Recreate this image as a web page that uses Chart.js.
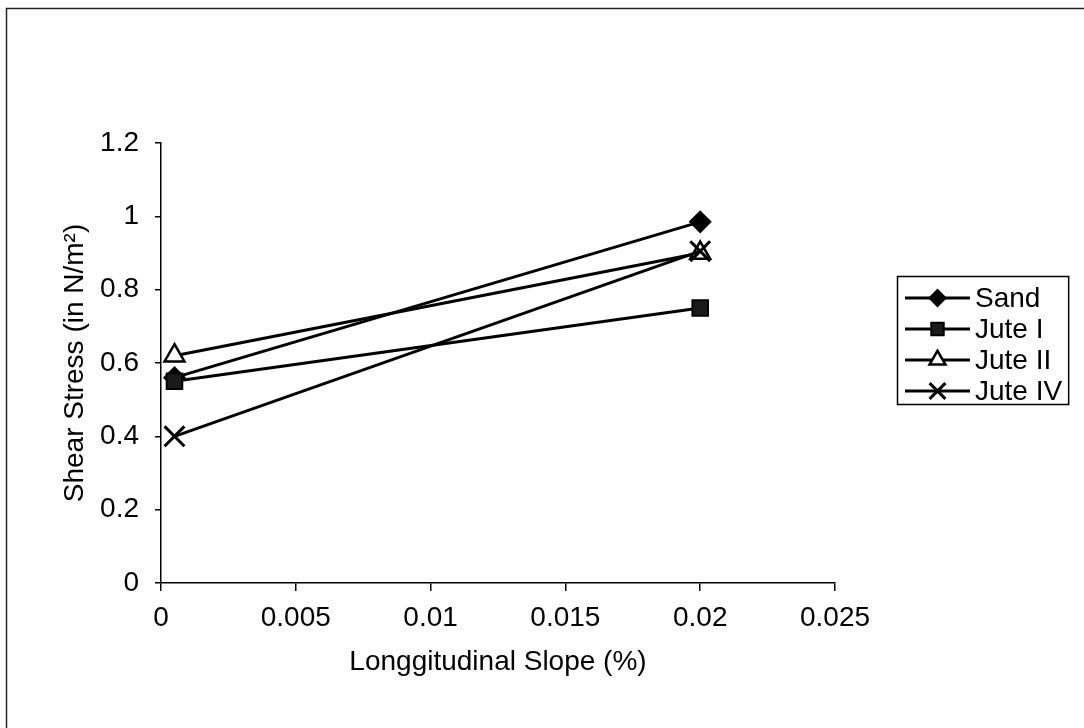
<!DOCTYPE html>
<html>
<head>
<meta charset="utf-8">
<script src="https://cdn.jsdelivr.net/npm/chart.js@4.4.1/dist/chart.umd.min.js"></script>
<style>
  html, body { margin: 0; padding: 0; background: #fff; }
  #wrap { width: 1084px; height: 728px; }
</style>
</head>
<body>
<div id="wrap"><canvas id="c" width="1084" height="728"></canvas></div>
<script>
// Longitudinal slope (%) at which each bed was tested
const slopes = [0.0005, 0.02];

// Shear stress (N/m²) for each bed material
const sand   = [0.56, 0.985];
const juteI  = [0.55, 0.75];
const juteII = [0.62, 0.90];
const juteIV = [0.40, 0.905];

const seriesNames = ['Sand', 'Jute I', 'Jute II', 'Jute IV'];

// Axis tick labels
const xTickLabels = ['0', '0.005', '0.01', '0.015', '0.02', '0.025'];
const yTickLabels = ['0', '0.2', '0.4', '0.6', '0.8', '1', '1.2'];

const FONT = 'Liberation Sans, Arial, sans-serif';
const FS = 28;

function pts(ys) { return slopes.map((x, i) => ({ x: x, y: ys[i] })); }

const markerStyles = [
  { pointStyle: 'rectRot',  radius: 10.5, bg: '#000', bw: 1.5 },
  { pointStyle: 'rect',     radius: 11,   bg: '#1a1a1a', bw: 2 },
  { pointStyle: 'triangle', radius: 11.5, bg: '#fff', bw: 2.5 },
  { pointStyle: 'crossRot', radius: 14,   bg: '#000', bw: 3 }
];

const values = [sand, juteI, juteII, juteIV];

const datasets = values.map((ys, i) => ({
  label: seriesNames[i],
  data: pts(ys),
  borderColor: '#000',
  borderWidth: 3,
  pointStyle: markerStyles[i].pointStyle,
  pointRadius: markerStyles[i].radius,
  pointBackgroundColor: markerStyles[i].bg,
  pointBorderColor: '#000',
  pointBorderWidth: markerStyles[i].bw,
  fill: false,
  tension: 0,
  order: values.length - 1 - i
}));

// Thin page frame along the top and left edges
const framePlugin = {
  id: 'frame',
  afterDraw(chart) {
    const ctx = chart.ctx;
    ctx.save();
    ctx.strokeStyle = '#222';
    ctx.lineWidth = 1.5;
    ctx.beginPath();
    ctx.moveTo(6.5, chart.height);
    ctx.lineTo(6.5, 8.5);
    ctx.lineTo(chart.width, 8.5);
    ctx.stroke();
    ctx.restore();
  }
};

// Boxed legend to the right of the plot, built from the datasets
const boxLegend = {
  id: 'boxLegend',
  afterDraw(chart) {
    const ctx = chart.ctx;
    const left = 897, top = 276, rowH = 31, firstRow = 298;
    const lineX0 = 905, lineX1 = 970, textX = 975;
    ctx.save();
    ctx.font = FS + 'px ' + FONT;
    let maxW = 0;
    chart.data.datasets.forEach(ds => { maxW = Math.max(maxW, ctx.measureText(ds.label).width); });
    const right = textX + maxW + 6;
    const bottom = top + 128;
    ctx.fillStyle = '#fff';
    ctx.fillRect(left, top, right - left, bottom - top);
    ctx.strokeStyle = '#000';
    ctx.lineWidth = 1.5;
    ctx.strokeRect(left + 0.5, top + 0.5, right - left, bottom - top);
    chart.data.datasets.forEach((ds, i) => {
      const y = firstRow + i * rowH;
      ctx.strokeStyle = '#000';
      ctx.lineWidth = 3;
      ctx.beginPath();
      ctx.moveTo(lineX0, y);
      ctx.lineTo(lineX1, y);
      ctx.stroke();
      ctx.lineWidth = ds.pointBorderWidth;
      ctx.fillStyle = ds.pointBackgroundColor;
      Chart.helpers.drawPoint(ctx, {
        pointStyle: ds.pointStyle,
        radius: ds.pointRadius * 0.8,
        borderWidth: ds.pointBorderWidth,
        rotation: 0
      }, (lineX0 + lineX1) / 2, y);
      ctx.fillStyle = '#000';
      ctx.textAlign = 'left';
      ctx.textBaseline = 'middle';
      ctx.fillText(ds.label, textX, y + 1);
    });
    ctx.restore();
  }
};

new Chart(document.getElementById('c'), {
  type: 'scatter',
  data: { datasets: datasets },
  options: {
    responsive: false,
    devicePixelRatio: 1,
    animation: false,
    showLine: true,
    layout: { padding: { top: 143, right: 249, bottom: 0, left: 0 } },
    plugins: {
      legend: { display: false },
      tooltip: { enabled: false }
    },
    scales: {
      x: {
        type: 'linear',
        min: 0,
        max: 0.025,
        afterFit(scale) { scale.height = 145; },
        afterBuildTicks(scale) {
          scale.ticks = xTickLabels.map(t => ({ value: parseFloat(t) }));
        },
        ticks: {
          color: '#000',
          font: { family: FONT, size: FS },
          padding: 10,
          maxRotation: 0,
          autoSkip: false,
          callback: (v, i) => xTickLabels[i]
        },
        grid: {
          drawOnChartArea: false,
          drawTicks: true,
          tickLength: 8,
          color: '#000',
          lineWidth: 1.5
        },
        border: { display: true, color: '#000', width: 1.5 },
        title: {
          display: true,
          text: 'Longgitudinal Slope (%)',
          color: '#000',
          font: { family: FONT, size: FS },
          padding: { top: 0, bottom: 49 }
        }
      },
      y: {
        type: 'linear',
        min: 0,
        max: 1.2,
        afterFit(scale) { scale.width = 161; },
        afterBuildTicks(scale) {
          scale.ticks = yTickLabels.map(t => ({ value: parseFloat(t) }));
        },
        ticks: {
          color: '#000',
          font: { family: FONT, size: FS },
          padding: 16,
          autoSkip: false,
          callback: (v, i) => yTickLabels[i]
        },
        grid: {
          drawOnChartArea: false,
          drawTicks: true,
          tickLength: 6,
          color: '#000',
          lineWidth: 1.5
        },
        border: { display: true, color: '#000', width: 1.5 },
        title: {
          display: true,
          text: 'Shear Stress (in N/m²)',
          color: '#000',
          font: { family: FONT, size: FS },
          padding: { top: 58, bottom: 0 }
        }
      }
    }
  },
  plugins: [framePlugin, boxLegend]
});
</script>
</body>
</html>
